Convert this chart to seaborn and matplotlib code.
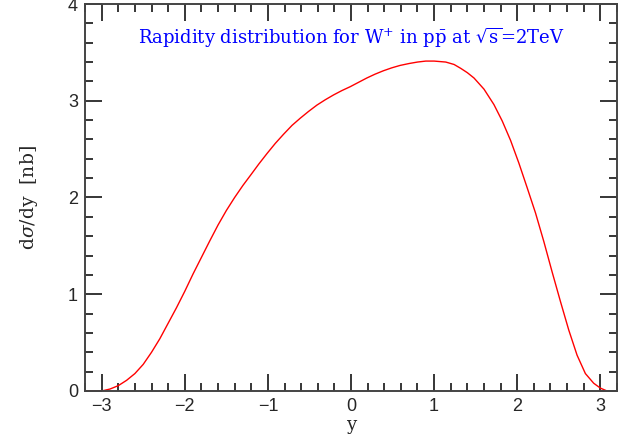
import pandas as pd
import seaborn as sns
import matplotlib.pyplot as plt
from matplotlib.ticker import MultipleLocator

sns.set_style("ticks")
plt.rcParams["font.family"] = ["DejaVu Serif"]
plt.rcParams["mathtext.fontset"] = "dejavuserif"

# rapidity y and d(sigma)/dy [nb]
rapidity = [-3.2, -3.1, -3.0, -2.9, -2.8, -2.7, -2.6, -2.5, -2.4, -2.3,
            -2.2, -2.1, -2.0, -1.9, -1.8, -1.7, -1.6, -1.5, -1.4, -1.3,
            -1.2, -1.11, -1.01, -0.91, -0.81, -0.71, -0.61, -0.51, -0.41, -0.31,
            -0.21, -0.11, -0.01, 0.09, 0.19, 0.29, 0.39, 0.49, 0.59, 0.70,
            0.80, 0.90, 1.0, 1.14, 1.24, 1.32, 1.40, 1.48, 1.60, 1.72,
            1.82, 1.92, 2.02, 2.12, 2.22, 2.32, 2.42, 2.52, 2.62, 2.72,
            2.82, 2.92, 3.0, 3.08]
dsigma = [0.0, 0.0, 0.0, 0.02, 0.055, 0.11, 0.18, 0.275, 0.40, 0.54,
          0.70, 0.86, 1.03, 1.21, 1.38, 1.55, 1.715, 1.865, 2.0, 2.125,
          2.24, 2.345, 2.455, 2.56, 2.655, 2.745, 2.82, 2.89, 2.955, 3.01,
          3.06, 3.105, 3.145, 3.19, 3.235, 3.275, 3.31, 3.34, 3.365, 3.385,
          3.40, 3.41, 3.41, 3.40, 3.375, 3.335, 3.29, 3.235, 3.12, 2.96,
          2.79, 2.59, 2.355, 2.10, 1.84, 1.545, 1.23, 0.925, 0.63, 0.37,
          0.18, 0.08, 0.03, 0.0]

df = pd.DataFrame({"y": rapidity, "dsdy": dsigma})

fig = plt.figure(figsize=(6.27, 4.4), dpi=100)
ax = fig.add_axes([0.1356, 0.1114, 0.8484, 0.8795])

sns.lineplot(data=df, x="y", y="dsdy", color="red", linewidth=1.0, ax=ax)

ax.set_xlim(-3.2, 3.2)
ax.set_ylim(0, 4)
ax.xaxis.set_major_locator(MultipleLocator(1))
ax.xaxis.set_minor_locator(MultipleLocator(0.2))
ax.yaxis.set_major_locator(MultipleLocator(1))
ax.yaxis.set_minor_locator(MultipleLocator(0.2))
ax.tick_params(which="both", direction="in", top=True, right=True,
               color="black", width=1.1)
ax.tick_params(which="major", length=12, labelsize=13, pad=5)
ax.tick_params(which="minor", length=6)
for lab in ax.get_xticklabels() + ax.get_yticklabels():
    lab.set_family("Liberation Sans")
for s in ax.spines.values():
    s.set_color("#444444")
    s.set_linewidth(1.4)

ax.set_xlabel("y", fontsize=13, labelpad=1)
ax.set_ylabel(r"d$\sigma$/dy  [nb]", fontsize=13.5, labelpad=20)

ax.text(0.5, 0.912,
        r"Rapidity distribution for W$^{+}$ in p$\bar{\mathrm{p}}$ at $\sqrt{\mathrm{s}}$=2TeV",
        transform=ax.transAxes, ha="center", va="center",
        color="blue", fontsize=13)

fig.savefig("out.png", dpi=100)
